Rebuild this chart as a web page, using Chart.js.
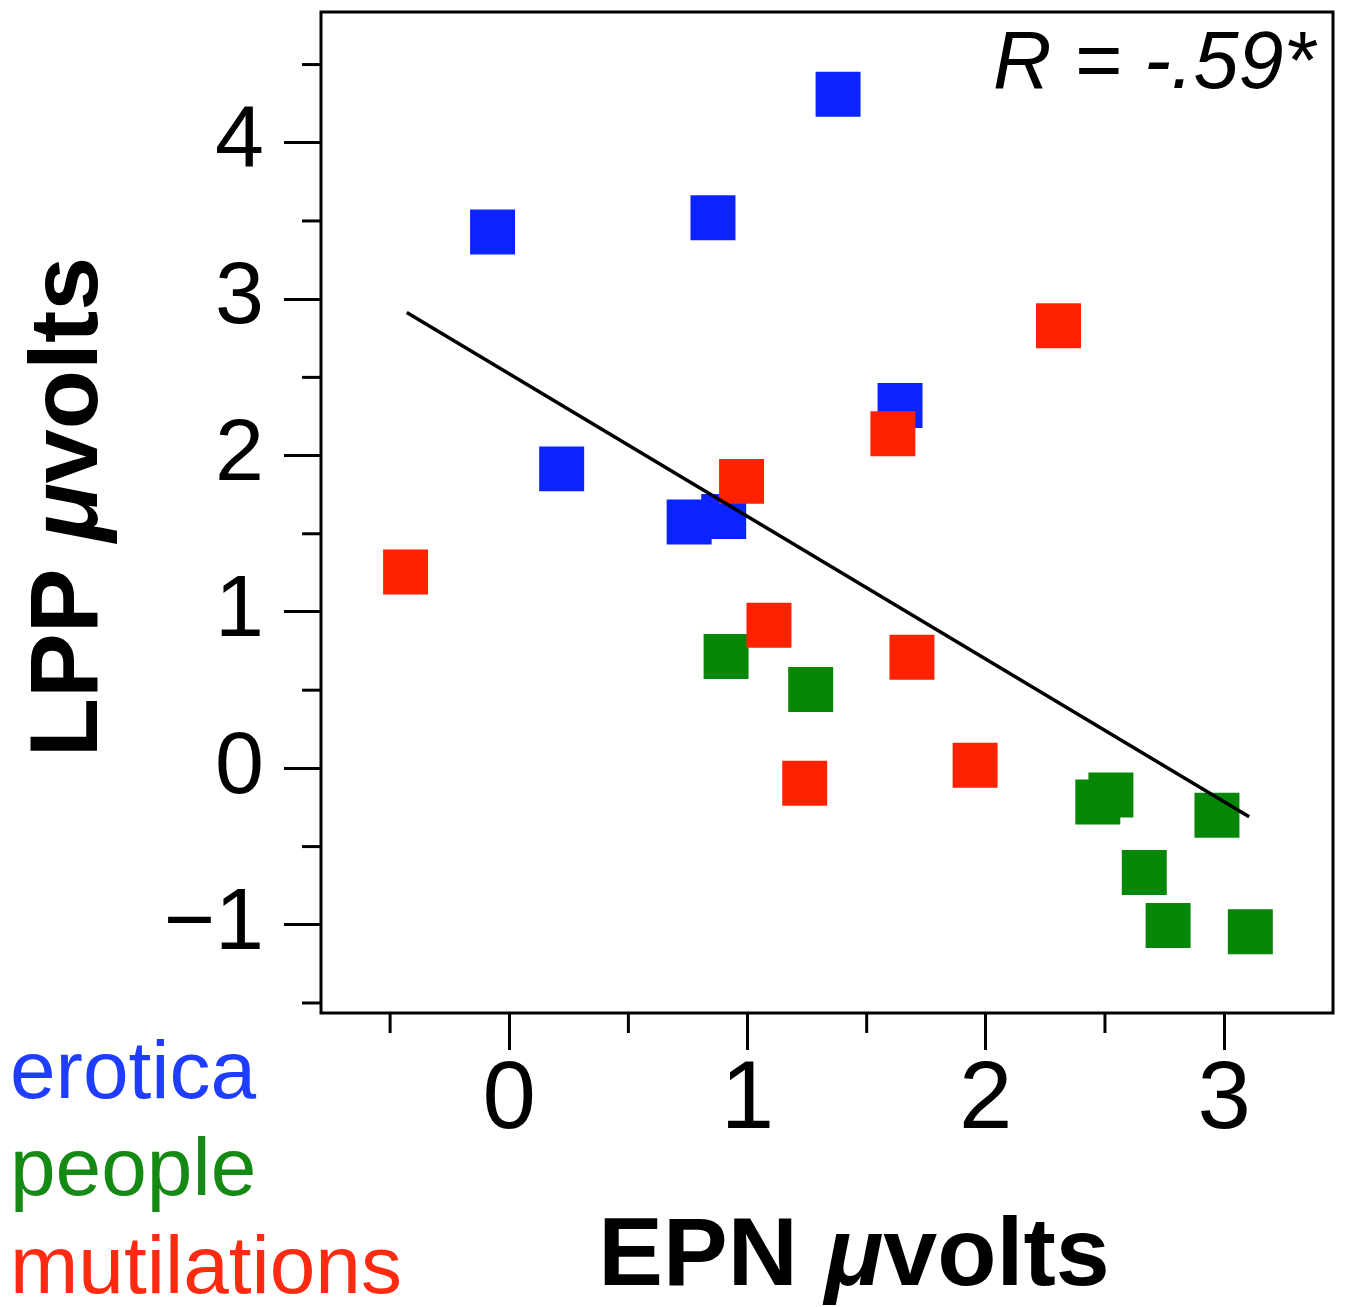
<!DOCTYPE html>
<html>
<head>
<meta charset="utf-8">
<title>LPP vs EPN</title>
<script src="https://cdn.jsdelivr.net/npm/chart.js@4.4.1/dist/chart.umd.min.js"></script>
<style>
  html, body { margin: 0; padding: 0; background: #fff; }
  canvas { display: block; }
</style>
</head>
<body>
<canvas id="chart" width="1347" height="1307"></canvas>
<script>
// values
const xTicks = [-0.5, 0, 0.5, 1, 1.5, 2, 2.5, 3];
const yTicks = [-1.5, -1, -0.5, 0, 0.5, 1, 1.5, 2, 2.5, 3, 3.5, 4, 4.5];

const eroticaX = [1.38, 0.855, -0.07, 1.64, 0.22, 0.755, 0.90];
const eroticaY = [4.31, 3.52, 3.43, 2.32, 1.915, 1.575, 1.61];

const peopleX = [0.91, 1.265, 2.47, 2.525, 2.97, 2.665, 2.765, 3.11];
const peopleY = [0.715, 0.505, -0.215, -0.17, -0.30, -0.665, -1.005, -1.045];

const mutilX = [2.305, 1.61, 0.975, -0.435, 1.09, 1.69, 1.955, 1.24];
const mutilY = [2.83, 2.14, 1.835, 1.255, 0.915, 0.71, 0.02, -0.095];

// regression line endpoints
const fitX = [-0.43, 3.105];
const fitY = [2.915, -0.31];

const legendNames = ["erotica", "people", "mutilations"];
const legendColors = ["#1f3dff", "#148a14", "#ff2a12"];

const FONT = "'Liberation Sans', Arial, Helvetica, sans-serif";

function pts(xs, ys) {
    return xs.map((x, i) => ({ x: x, y: ys[i] }));
}

function tickLabel(v) {
    if (v % 1 !== 0) return "";
    return v < 0 ? "\u2212" + Math.abs(v) : String(v);
}

// frame, short minor ticks, titles, legend text
const decorations = {
    id: "decorations",
    afterDraw(chart) {
        const ctx = chart.ctx;
        const a = chart.chartArea;
        ctx.save();
        ctx.strokeStyle = "#000";
        ctx.lineWidth = 3;
        ctx.strokeRect(a.left, a.top, a.right - a.left, a.bottom - a.top);

        // minor ticks
        chart.scales.x.ticks.forEach((t) => {
            if (t.value % 1 === 0) return;
            const px = chart.scales.x.getPixelForValue(t.value);
            ctx.beginPath();
            ctx.moveTo(px, a.bottom);
            ctx.lineTo(px, a.bottom + 20);
            ctx.stroke();
        });
        chart.scales.y.ticks.forEach((t) => {
            if (t.value % 1 === 0) return;
            const py = chart.scales.y.getPixelForValue(t.value);
            ctx.beginPath();
            ctx.moveTo(a.left, py);
            ctx.lineTo(a.left - 19, py);
            ctx.stroke();
        });

        // axis titles with italic mu
        const parts = [["LPP ", "bold"], ["\u03bc", "italic bold"], ["volts", "bold"]];
        const xparts = [["EPN ", "bold"], ["\u03bc", "italic bold"], ["volts", "bold"]];
        function drawParts(list, cx, baseline) {
            let total = 0;
            list.forEach((p) => {
                ctx.font = p[1] + " 97px " + FONT;
                total += ctx.measureText(p[0]).width;
            });
            let x = cx - total / 2;
            ctx.textBaseline = "alphabetic";
            ctx.textAlign = "left";
            ctx.fillStyle = "#000";
            list.forEach((p) => {
                ctx.font = p[1] + " 97px " + FONT;
                ctx.fillText(p[0], x, baseline);
                x += ctx.measureText(p[0]).width;
            });
        }
        drawParts(xparts, 854, 1285);
        ctx.save();
        ctx.translate(97, 507);
        ctx.rotate(-Math.PI / 2);
        drawParts(parts, 0, 0);
        ctx.restore();

        // R value
        ctx.font = "italic 81px " + FONT;
        ctx.textAlign = "right";
        ctx.textBaseline = "alphabetic";
        ctx.fillStyle = "#000";
        ctx.fillText("R = -.59*", 1315, 88);

        // category legend
        ctx.font = "82px " + FONT;
        ctx.textAlign = "left";
        const baselines = [1098, 1195, 1293];
        legendNames.forEach((name, i) => {
            ctx.fillStyle = legendColors[i];
            ctx.fillText(name, 10, baselines[i]);
        });
        ctx.restore();
    },
};

const axisGrid = {
    drawOnChartArea: false,
    drawTicks: true,
    tickLength: 37,
    tickWidth: 3,
    tickColor: (c) => (c.tick && c.tick.value % 1 === 0 ? "#000" : "rgba(0,0,0,0)"),
};

function noPad(scale) {
    scale.paddingTop = 0;
    scale.paddingBottom = 0;
    scale.paddingLeft = 0;
    scale.paddingRight = 0;
}

new Chart(document.getElementById("chart"), {
    type: "scatter",
    data: {
        datasets: [
            {
                label: "fit",
                data: pts(fitX, fitY),
                showLine: true,
                borderColor: "#000",
                borderWidth: 3.5,
                pointRadius: 0,
                order: 0,
            },
            {
                label: "mutilations",
                data: pts(mutilX, mutilY),
                pointStyle: "rect",
                pointRadius: 31.8,
                borderWidth: 0,
                backgroundColor: "#ff2200",
                order: 1,
            },
            {
                label: "people",
                data: pts(peopleX, peopleY),
                pointStyle: "rect",
                pointRadius: 31.8,
                borderWidth: 0,
                backgroundColor: "#078707",
                order: 2,
            },
            {
                label: "erotica",
                data: pts(eroticaX, eroticaY),
                pointStyle: "rect",
                pointRadius: 31.8,
                borderWidth: 0,
                backgroundColor: "#0b24ff",
                order: 3,
            },
        ],
    },
    options: {
        responsive: false,
        animation: false,
        layout: { autoPadding: false, padding: { left: 0, top: 12, right: 14, bottom: 0 } },
        plugins: {
            legend: { display: false },
            tooltip: { enabled: false },
        },
        scales: {
            x: {
                type: "linear",
                min: -0.79,
                max: 3.457,
                afterBuildTicks: (scale) => {
                    scale.ticks = xTicks.map((v) => ({ value: v }));
                },
                afterFit: (scale) => {
                    scale.height = 294;
                    noPad(scale);
                },
                border: { display: false },
                grid: axisGrid,
                ticks: {
                    autoSkip: false,
                    maxRotation: 0,
                    padding: 4,
                    color: "#000",
                    font: { family: FONT, size: 96, lineHeight: 1 },
                    callback: (v) => tickLabel(v),
                },
            },
            y: {
                type: "linear",
                min: -1.564,
                max: 4.836,
                afterBuildTicks: (scale) => {
                    scale.ticks = yTicks.map((v) => ({ value: v }));
                },
                afterFit: (scale) => {
                    scale.width = 321;
                    noPad(scale);
                },
                border: { display: false },
                grid: axisGrid,
                ticks: {
                    autoSkip: false,
                    padding: 20,
                    color: "#000",
                    font: { family: FONT, size: 88 },
                    callback: (v) => tickLabel(v),
                },
            },
        },
    },
    plugins: [decorations],
});
</script>
</body>
</html>
